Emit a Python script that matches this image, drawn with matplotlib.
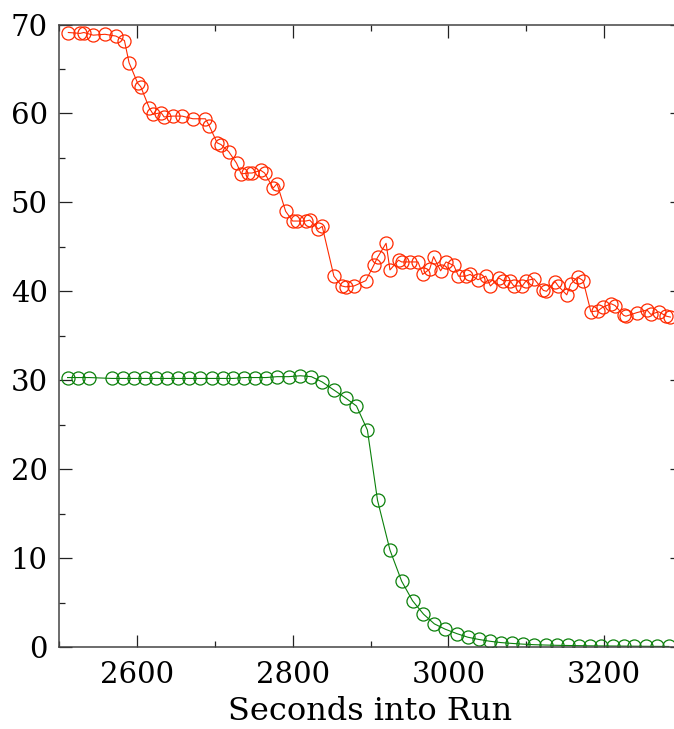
import matplotlib
matplotlib.use("Agg")
import matplotlib.pyplot as plt
from matplotlib.ticker import MultipleLocator

plt.rcParams["font.family"] = "DejaVu Serif"

# red series
red_t = [2512, 2527, 2532, 2544, 2559, 2573, 2584, 2590, 2601, 2605,
         2616, 2621, 2631, 2635, 2646, 2658, 2672, 2688, 2693, 2703,
         2708, 2718, 2728, 2734, 2743, 2748, 2759, 2764, 2775, 2780,
         2791, 2800, 2805, 2817, 2822, 2833, 2838, 2853, 2863, 2868,
         2879, 2894, 2904, 2909, 2920, 2925, 2936, 2940, 2951, 2961,
         2967, 2976, 2981, 2990, 2997, 3007, 3013, 3022, 3028, 3038,
         3048, 3054, 3065, 3070, 3079, 3084, 3095, 3100, 3110, 3122,
         3126, 3137, 3141, 3152, 3157, 3166, 3173, 3183, 3192, 3198,
         3209, 3214, 3225, 3228, 3242, 3255, 3260, 3270, 3280, 3285]
red_v = [69.1, 69.0, 69.1, 68.8, 68.9, 68.7, 68.2, 65.7, 63.4, 63.0,
         60.6, 59.9, 60.1, 59.6, 59.7, 59.7, 59.4, 59.4, 58.6, 56.7,
         56.5, 55.7, 54.4, 53.2, 53.3, 53.3, 53.6, 53.3, 51.6, 52.1,
         49.0, 47.9, 47.9, 47.9, 48.0, 47.0, 47.3, 41.7, 40.6, 40.5,
         40.6, 41.2, 42.9, 43.8, 45.4, 42.4, 43.5, 43.3, 43.3, 43.3,
         41.9, 42.5, 43.9, 42.3, 43.3, 42.9, 41.7, 41.7, 41.9, 41.3,
         41.7, 40.6, 41.5, 41.2, 41.2, 40.6, 40.6, 41.2, 41.4, 40.1,
         40.0, 41.1, 40.6, 39.6, 40.8, 41.6, 41.2, 37.7, 37.8, 38.2,
         38.6, 38.4, 37.3, 37.2, 37.6, 37.9, 37.4, 37.7, 37.2, 37.1]

# green series
green_t = [2511, 2525, 2539, 2568, 2582, 2596, 2610, 2625, 2639, 2653,
           2667, 2681, 2696, 2710, 2724, 2738, 2752, 2766, 2780, 2795,
           2810, 2824, 2838, 2853, 2868, 2882, 2896, 2909, 2925, 2940,
           2954, 2968, 2982, 2996, 3011, 3025, 3039, 3053, 3067, 3082,
           3096, 3110, 3125, 3139, 3153, 3168, 3182, 3196, 3211, 3225,
           3239, 3254, 3268, 3283]
green_v = [30.3, 30.3, 30.3, 30.2, 30.2, 30.2, 30.2, 30.2, 30.2, 30.2,
           30.2, 30.2, 30.2, 30.2, 30.2, 30.3, 30.3, 30.3, 30.4, 30.4,
           30.5, 30.4, 29.8, 28.9, 28.0, 27.1, 24.4, 16.5, 10.9, 7.4,
           5.2, 3.7, 2.6, 2.0, 1.5, 1.1, 0.85, 0.65, 0.5, 0.4,
           0.32, 0.26, 0.22, 0.19, 0.17, 0.15, 0.13, 0.12, 0.11, 0.1,
           0.09, 0.08, 0.07, 0.06]

W, H = 674, 729
fig = plt.figure(figsize=(W / 100, H / 100), dpi=100)
ax = fig.add_axes([59 / W, 82 / H, 623 / W, 622.5 / H])

ax.plot(red_t, red_v, color="#ff2a00", lw=0.8, marker="o", ms=9.4,
        mfc="none", mec="#ff2a00", mew=0.9)
ax.plot(green_t, green_v, color="#0a800a", lw=0.8, marker="o", ms=9.4,
        mfc="none", mec="#0a800a", mew=0.9)

ax.set_xlim(2500, 3300)
ax.set_ylim(0, 70)
ax.xaxis.set_major_locator(MultipleLocator(200))
ax.xaxis.set_minor_locator(MultipleLocator(100))
ax.yaxis.set_major_locator(MultipleLocator(10))
ax.yaxis.set_minor_locator(MultipleLocator(5))

ax.tick_params(which="both", direction="in", top=True, right=True,
               color="#222222", width=0.9, labelsize=21)
ax.tick_params(which="major", length=9)
ax.tick_params(which="minor", length=4.5)
ax.tick_params(axis="y", pad=8)
ax.tick_params(axis="x", pad=10)
for s in ax.spines.values():
    s.set_color("#444444")
    s.set_linewidth(1.1)

ax.set_xlabel("Seconds into Run", fontsize=23, labelpad=5)

fig.savefig("out.png", dpi=100)
